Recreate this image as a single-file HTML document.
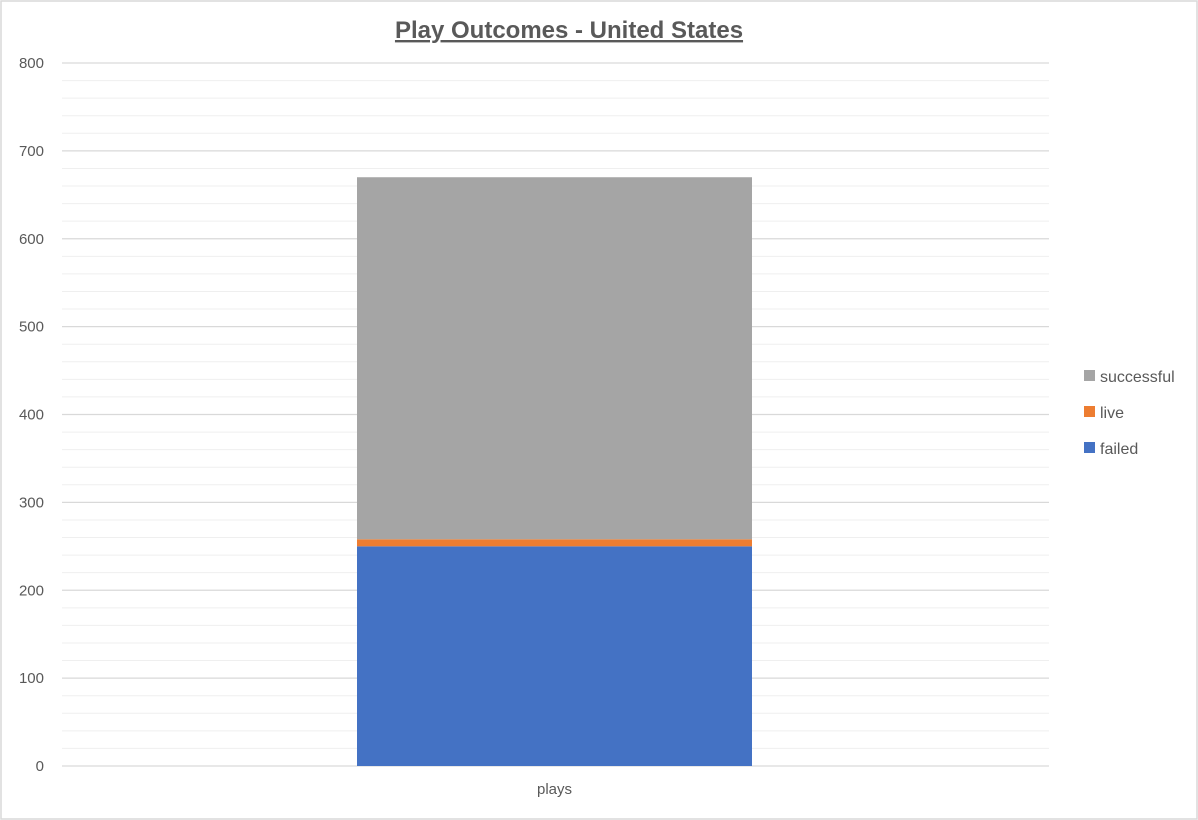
<!DOCTYPE html>
<html><head><meta charset="utf-8"><style>
body{margin:0;background:#fff;font-family:"Liberation Sans",sans-serif}
svg{display:block}
</style></head><body>
<svg id="chart" width="1198" height="820">
<rect x="1" y="1" width="1196" height="818" fill="#fff" stroke="#d9d9d9" stroke-width="1.5"/>
<text x="569" y="38" text-anchor="middle" font-size="24" font-weight="bold" fill="#595959" text-decoration="underline">Play Outcomes - United States</text>
<g id="grid"></g><g id="bars"></g><g id="legend"></g>
</svg>
<script>
const categories=["plays"];
const seriesNames=["failed","live","successful"];
const failed=[250];
const live=[8];
const successful=[412];
const ticks=[0,100,200,300,400,500,600,700,800];
const colors=["#4472c4","#ed7d31","#a5a5a5"];
const NS="http://www.w3.org/2000/svg";
const y0=766,y1=63,x0=62,x1=1049,ymax=800;
const Y=v=>y0-(v/ymax)*(y0-y1);
function mk(t,a,p){const e=document.createElementNS(NS,t);for(const k in a)e.setAttribute(k,a[k]);p.appendChild(e);return e;}
const grid=document.getElementById('grid');
for(let v=0;v<=ymax;v+=20){
 const major=v%100===0;
 const l=mk('line',{x1:x0,x2:x1,y1:Y(v),y2:Y(v),stroke:major?'#d9d9d9':'#efefef','stroke-width':major?1.3:1},grid);
 
 
}
ticks.forEach(t=>{
 const tx=mk('text',{x:44,y:Y(t)+5,'text-anchor':'end','font-size':15,fill:'#595959'},grid);
 tx.textContent=t;
 
 
});
const bars=document.getElementById('bars');
const band=(x1-x0)/categories.length, bw=395;
const data=[failed,live,successful];
categories.forEach((c,i)=>{
 const cx=x0+band*(i+0.5)-1;
 let acc=0;
 data.forEach((s,j)=>{
  const r=mk('rect',{x:cx-bw/2,y:Y(acc+s[i]),width:bw,height:Y(acc)-Y(acc+s[i]),fill:colors[j]},bars);
  
  
  acc+=s[i];
 });
 const tx=mk('text',{x:cx,y:794,'text-anchor':'middle','font-size':15,fill:'#595959'},bars);
 tx.textContent=c;
 
 
});
const lg=document.getElementById('legend');
[2,1,0].forEach((j,k)=>{
 const y=376+k*36;
 const r=mk('rect',{x:1084,y:y-6,width:11,height:11,fill:colors[j]},lg);
 
 
 const t=mk('text',{x:1100,y:y+6,'font-size':16,fill:'#595959'},lg);
 t.textContent=seriesNames[j];
 
 
});
</script>
</body></html>
